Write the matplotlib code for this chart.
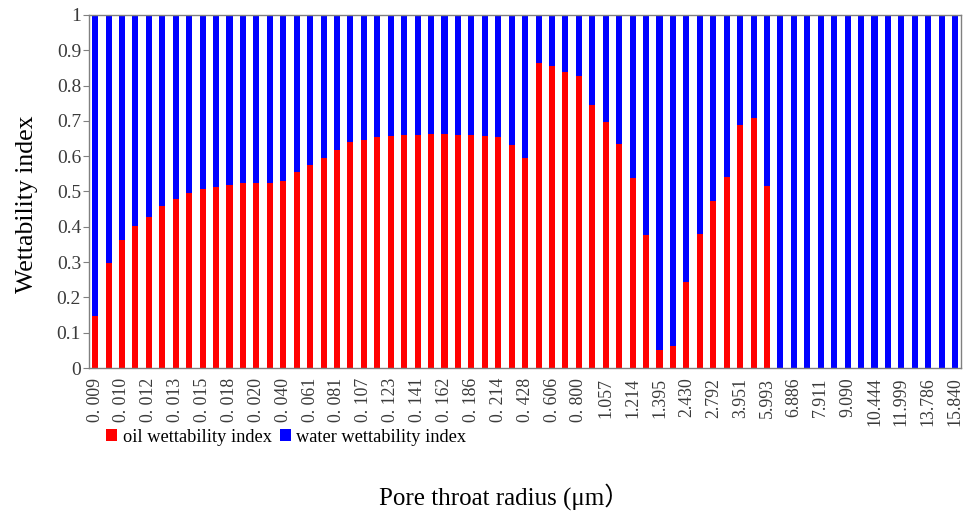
import matplotlib
matplotlib.use("Agg")
import matplotlib.pyplot as plt
from matplotlib.patches import Patch

# Pore throat radius classes (um); every other class carries a tick label
tick_labels = ["0. 009", "0. 010", "0. 012", "0. 013", "0. 015", "0. 018", "0. 020",
               "0. 040", "0. 061", "0. 081", "0. 107", "0. 123", "0. 141", "0. 162",
               "0. 186", "0. 214", "0. 428", "0. 606", "0. 800", "1.057", "1.214",
               "1.395", "2.430", "2.792", "3.951", "5.993", "6.886", "7.911", "9.090",
               "10.444", "11.999", "13.786", "15.840"]

oil_index = [0.148, 0.297, 0.363, 0.401, 0.427, 0.458, 0.479, 0.497, 0.507, 0.514,
             0.519, 0.524, 0.525, 0.525, 0.530, 0.556, 0.576, 0.596, 0.618, 0.641,
             0.646, 0.653, 0.658, 0.659, 0.660, 0.662, 0.662, 0.660, 0.659, 0.658,
             0.655, 0.631, 0.594, 0.863, 0.856, 0.839, 0.827, 0.744, 0.698, 0.635,
             0.538, 0.377, 0.052, 0.061, 0.245, 0.379, 0.474, 0.542, 0.688, 0.708,
             0.516, 0.0, 0.0, 0.0, 0.0, 0.0, 0.0, 0.0, 0.0, 0.0,
             0.0, 0.0, 0.0, 0.0, 0.0]

water_index = [0.852, 0.703, 0.637, 0.599, 0.573, 0.542, 0.521, 0.503, 0.493, 0.486,
               0.481, 0.476, 0.475, 0.475, 0.470, 0.444, 0.424, 0.404, 0.382, 0.359,
               0.354, 0.347, 0.342, 0.341, 0.340, 0.338, 0.338, 0.340, 0.341, 0.342,
               0.345, 0.369, 0.406, 0.137, 0.144, 0.161, 0.173, 0.256, 0.302, 0.365,
               0.462, 0.623, 0.948, 0.939, 0.755, 0.621, 0.526, 0.458, 0.312, 0.292,
               0.484, 1.0, 1.0, 1.0, 1.0, 1.0, 1.0, 1.0, 1.0, 1.0,
               1.0, 1.0, 1.0, 1.0, 1.0]

RED = "#ff0000"
BLUE = "#0000ff"
SERIF = ["Liberation Serif", "DejaVu Serif"]

plt.rcParams["font.family"] = SERIF

fig = plt.figure(figsize=(9.65, 5.15), dpi=100)
ax = fig.add_axes([0.0927, 0.2854, 0.9035, 0.6856])

x = list(range(len(oil_index)))
ax.bar(x, oil_index, width=0.45, color=RED, linewidth=0)
ax.bar(x, water_index, width=0.45, bottom=oil_index, color=BLUE, linewidth=0)

ax.set_xlim(-0.42, len(x) - 1 + 0.46)
ax.set_ylim(0, 1)

ax.set_xticks(x[::2])
ax.set_xticklabels(tick_labels, rotation=90, fontsize=12.8, color="#3a3a3a")
ax.tick_params(axis="x", length=0, pad=7)

yt = [i / 10 for i in range(11)]
ax.set_yticks(yt)
ax.set_yticklabels(["0"] + [f"{v:.1f}" for v in yt[1:-1]] + ["1"],
                   fontsize=14, color="#3a3a3a")
ax.tick_params(axis="y", length=4, width=0.8, color="#808080", direction="out", pad=2)

for s in ax.spines.values():
    s.set_color("#808080")
    s.set_linewidth(1.0)

ax.set_ylabel("Wettability index", fontsize=18.5)
ax.yaxis.set_label_coords(-0.059, 0.465)

fig.text(0.5225, 0.035, "Pore throat radius (\u03bcm\uff09", ha="center", va="center",
         fontsize=18, family=["Liberation Serif", "Noto Sans CJK SC"])

handles = [Patch(facecolor=RED, edgecolor="none"), Patch(facecolor=BLUE, edgecolor="none")]
fig.legend(handles, ["oil wettability index", "water wettability index"],
           loc="center left", bbox_to_anchor=(0.11, 0.151), ncol=2, frameon=False,
           fontsize=13.2, handlelength=0.6, handleheight=0.6, handletextpad=0.3,
           columnspacing=0.45, borderaxespad=0, borderpad=0)

fig.savefig("out.png", dpi=100)
